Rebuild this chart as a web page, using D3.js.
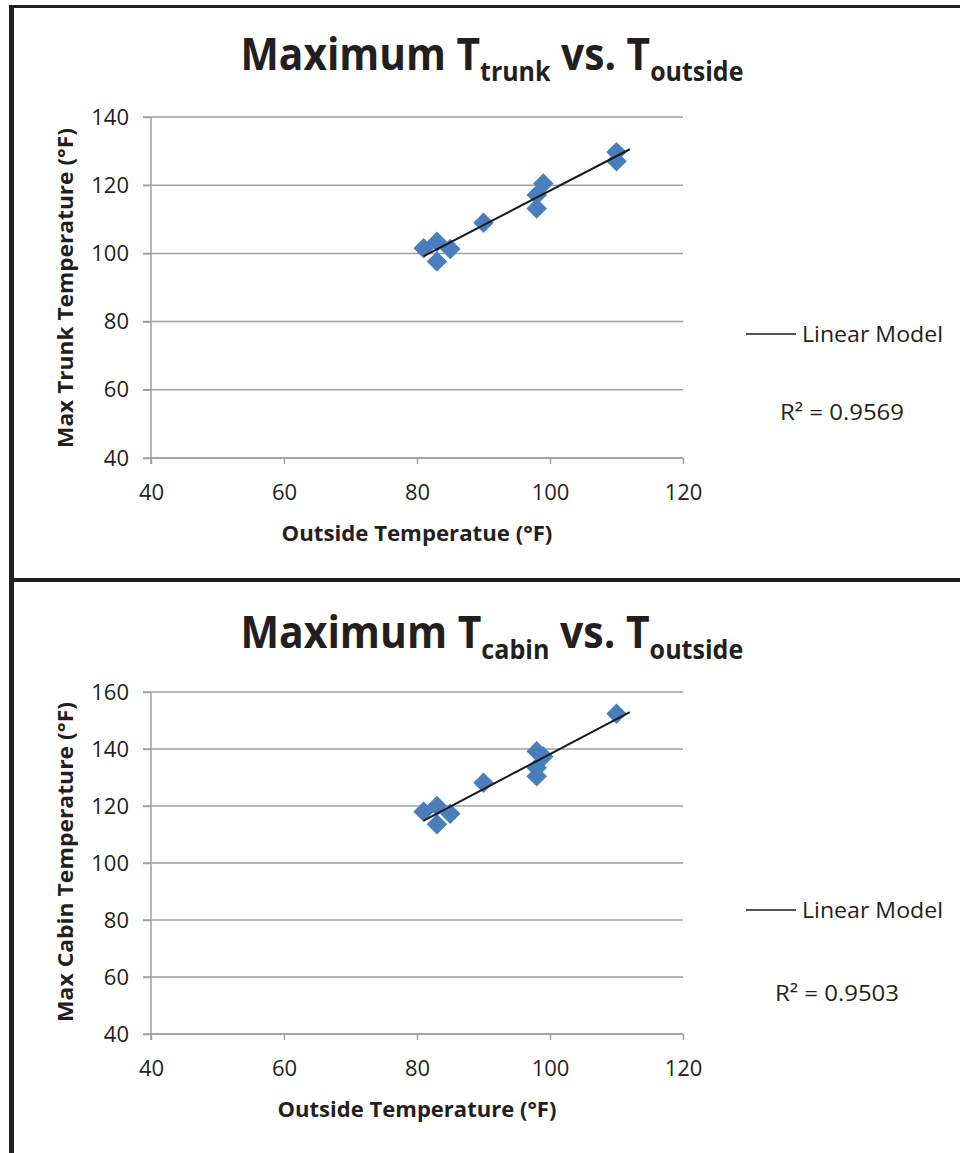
<!DOCTYPE html>
<html>
<head>
<meta charset="utf-8">
<script src="https://cdn.jsdelivr.net/npm/d3@7"></script>
<style>
  body { margin: 0; background: #fff; }
  svg text { font-family: "Open Sans", "DejaVu Sans", sans-serif; fill: #231f20; }
</style>
</head>
<body>
<div id="chart"></div>
<script>
/* ---------------- data ---------------- */
// outside temperature (°F) for each run
let outsideTrunk = [81, 83, 85, 83, 90, 98, 98, 99, 110, 110];
let trunkTemps = [101.5, 103.4, 101.3, 97.6, 109, 113.2, 117.1, 120.5, 129.7, 127];

let outsideCabin = [81, 83, 85, 83, 90, 98, 99, 98, 98, 110];
let cabinTemps = [118, 120, 117.3, 113.6, 128.2, 139.2, 137.4, 133.4, 130.4, 152.4];

let xTicks = [40, 60, 80, 100, 120];
let trunkTicks = [40, 60, 80, 100, 120, 140];
let cabinTicks = [40, 60, 80, 100, 120, 140, 160];

let rSquared = ["R² = 0.9569", "R² = 0.9503"];
let legendLabel = "Linear Model";
let trendForecast = 2; // trendline runs a bit past the last point

/* ---------------- svg ---------------- */
let width = 960, height = 1153;
let svg = d3.select("#chart").append("svg")
    .attr("width", width).attr("height", height);

// frame lines
svg.append("rect").attr("x", 9).attr("y", 5).attr("width", 5).attr("height", height)
    .attr("fill", "#231f20");
svg.append("rect").attr("x", 9).attr("y", 5).attr("width", width).attr("height", 3)
    .attr("fill", "#231f20");
svg.append("rect").attr("x", 9).attr("y", 578).attr("width", width).attr("height", 4)
    .attr("fill", "#231f20");

let markerColor = "#4a7ebb";
let gridColor = "#a0a0a0";

// least squares fit
function linFit(xs, ys) {
    let mx = d3.mean(xs), my = d3.mean(ys);
    let num = d3.sum(xs, (x, i) => (x - mx) * (ys[i] - my));
    let den = d3.sum(xs, x => (x - mx) * (x - mx));
    let m = num / den;
    return { m: m, b: my - m * mx };
}

// scale a text node horizontally so it spans targetW, centered on cx
function fitWidth(node, cx, targetW) {
    let bb = node.node().getBBox();
    let k = targetW / bb.width;
    node.attr("transform", `translate(${cx},0) scale(${k},1) translate(${-(bb.x + bb.width / 2)},0)`);
}

function drawPanel(opt) {
    let g = svg.append("g");

    let x = d3.scaleLinear().domain([40, 120]).range([151, 683]);
    let y = d3.scaleLinear().domain(opt.yDomain).range(opt.yRange);

    // title
    let title = g.append("text")
        .attr("x", 0).attr("y", opt.titleY)
        .attr("font-weight", "bold").attr("font-size", 44);
    title.append("tspan").text("Maximum T");
    title.append("tspan").attr("font-size", 27).attr("dy", 11).text(opt.sub);
    title.append("tspan").attr("dy", -11).text(" vs. T");
    title.append("tspan").attr("font-size", 27).attr("dy", 11).text("outside");
    fitWidth(title, 492, 503);

    // gridlines
    g.append("g").selectAll("line")
        .data(opt.yTicks)
        .enter().append("line")
        .attr("x1", 143).attr("x2", x.range()[1])
        .attr("y1", d => y(d)).attr("y2", d => y(d))
        .attr("stroke", gridColor).attr("stroke-width", 1.5);

    // y axis
    let yAxis = g.append("g")
        .attr("transform", `translate(${x.range()[0]},0)`)
        .call(d3.axisLeft(y).tickValues(opt.yTicks).tickSize(8).tickPadding(14));
    yAxis.select(".domain").attr("stroke", gridColor).attr("stroke-width", 1.5)
        .attr("d", `M0,${y.range()[1]}V${y.range()[0] + 6}`);
    yAxis.selectAll(".tick line").attr("stroke", gridColor).attr("stroke-width", 1.5);
    yAxis.selectAll(".tick text").attr("font-size", 22).attr("font-family", null)
        .attr("fill", "#231f20");

    // x axis
    let xAxis = g.append("g")
        .attr("transform", `translate(0,${y.range()[0]})`)
        .call(d3.axisBottom(x).tickValues(xTicks).tickSize(6).tickPadding(20));
    xAxis.select(".domain").attr("stroke", gridColor).attr("stroke-width", 1.5)
        .attr("d", `M${x.range()[0]},0H${x.range()[1]}`);
    xAxis.selectAll(".tick line").attr("stroke", gridColor).attr("stroke-width", 1.5);
    xAxis.selectAll(".tick text").attr("font-size", 22).attr("font-family", null)
        .attr("fill", "#231f20");

    // axis titles
    let xt = g.append("text")
        .attr("x", 0).attr("y", opt.xLabelY)
        .attr("font-weight", "bold").attr("font-size", 22)
        .text(opt.xLabel);
    fitWidth(xt, 417, opt.xLabelW);

    g.append("text")
        .attr("transform", `translate(73,${opt.yLabelC}) rotate(-90)`)
        .attr("text-anchor", "middle")
        .attr("font-weight", "bold").attr("font-size", 22)
        .attr("textLength", 320).attr("lengthAdjust", "spacingAndGlyphs")
        .text(opt.yLabel);

    // points
    let pts = opt.xs.map((d, i) => ({ x: d, y: opt.ys[i] }));
    g.append("g").selectAll("path")
        .data(pts)
        .enter().append("path")
        .attr("d", d3.symbol(d3.symbolSquare, 210))
        .attr("transform", d => `translate(${x(d.x)},${y(d.y)}) rotate(45)`)
        .attr("fill", markerColor);

    // trendline
    let fit = linFit(opt.xs, opt.ys);
    let x0 = d3.min(opt.xs), x1 = d3.max(opt.xs) + trendForecast;
    g.append("line")
        .attr("x1", x(x0)).attr("y1", y(fit.m * x0 + fit.b))
        .attr("x2", x(x1)).attr("y2", y(fit.m * x1 + fit.b))
        .attr("stroke", "#1a1a1a").attr("stroke-width", 2);

    // legend
    g.append("line")
        .attr("x1", 746).attr("x2", 796)
        .attr("y1", opt.legendY).attr("y2", opt.legendY)
        .attr("stroke", "#1a1a1a").attr("stroke-width", 1.5);
    g.append("text")
        .attr("x", 802).attr("y", opt.legendY + 8)
        .attr("font-size", 22)
        .attr("textLength", 141).attr("lengthAdjust", "spacingAndGlyphs")
        .text(legendLabel);
    g.append("text")
        .attr("x", opt.r2X).attr("y", opt.r2Y)
        .attr("font-size", 22)
        .attr("textLength", 124).attr("lengthAdjust", "spacingAndGlyphs")
        .text(opt.r2);
}

drawPanel({
    sub: "trunk", titleY: 70,
    yDomain: [40, 140], yRange: [458, 117], yTicks: trunkTicks,
    xs: outsideTrunk, ys: trunkTemps,
    xLabel: "Outside Temperatue (°F)", xLabelY: 541, xLabelW: 271,
    yLabel: "Max Trunk  Temperature (°F)", yLabelC: 288,
    legendY: 334, r2X: 780, r2Y: 420, r2: rSquared[0]
});

drawPanel({
    sub: "cabin", titleY: 648,
    yDomain: [40, 160], yRange: [1034, 692], yTicks: cabinTicks,
    xs: outsideCabin, ys: cabinTemps,
    xLabel: "Outside Temperature (°F)", xLabelY: 1117, xLabelW: 279,
    yLabel: "Max Cabin Temperature (°F)", yLabelC: 862,
    legendY: 910, r2X: 775, r2Y: 1001, r2: rSquared[1]
});
</script>
</body>
</html>
